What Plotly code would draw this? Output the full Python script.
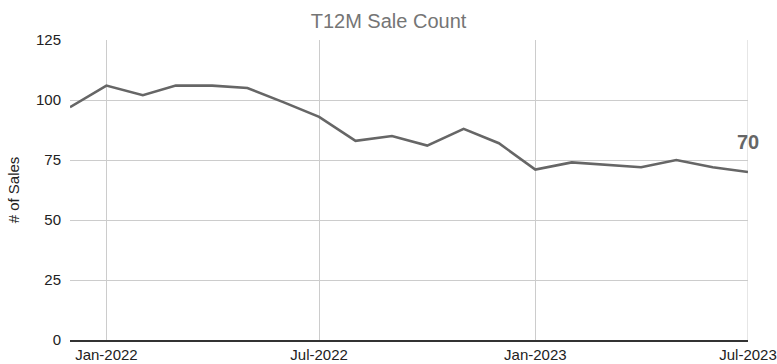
import plotly.graph_objects as go

# Trailing-12-month sale counts, monthly
months = [
    "2021-12-01", "2022-01-01", "2022-02-01", "2022-03-01", "2022-04-01",
    "2022-05-01", "2022-06-01", "2022-07-01", "2022-08-01", "2022-09-01",
    "2022-10-01", "2022-11-01", "2022-12-01", "2023-01-01", "2023-02-01",
    "2023-03-01", "2023-04-01", "2023-05-01", "2023-06-01", "2023-07-01",
]
sales = [97, 106, 102, 106, 106, 105, 99, 93, 83, 85,
         81, 88, 82, 71, 74, 73, 72, 75, 72, 70]

x_ticks = ["2022-01-01", "2022-07-01", "2023-01-01", "2023-07-01"]
x_tick_labels = ["Jan-2022", "Jul-2022", "Jan-2023", "Jul-2023"]
y_ticks = [0, 25, 50, 75, 100, 125]

FONT = "Liberation Sans, Arial, sans-serif"

fig = go.Figure()
fig.add_trace(go.Scatter(
    x=months, y=sales, mode="lines",
    line=dict(color="#666666", width=2.6),
    hoverinfo="x+y",
))

# Value label on the latest point
fig.add_annotation(
    x=months[-1], y=sales[-1], text=f"<b>{sales[-1]}</b>",
    showarrow=False, yshift=30,
    font=dict(family=FONT, size=20, color="#666666"),
)

fig.update_layout(
    width=777, height=364,
    margin=dict(l=70, r=29, t=40, b=24),
    paper_bgcolor="white", plot_bgcolor="white",
    showlegend=False,
    title=dict(
        text="T12M Sale Count", x=0.5, xanchor="center",
        y=0.942, yanchor="middle", yref="container",
        font=dict(family=FONT, size=20, color="#757575"),
    ),
    font=dict(family=FONT, size=15, color="#222222"),
)

fig.update_xaxes(
    range=[months[0], months[-1]],
    tickvals=x_ticks, ticktext=x_tick_labels,
    showgrid=True, gridcolor="#cccccc", gridwidth=1,
    showline=True, linecolor="#333333", linewidth=1.5,
    zeroline=False, ticks="", automargin=False,
    tickfont=dict(family=FONT, size=15, color="#222222"),
)
fig.update_yaxes(
    range=[0, 125], tickvals=y_ticks,
    showgrid=True, gridcolor="#cccccc", gridwidth=1,
    zeroline=False, showline=False, ticks="", automargin=False,
    ticklabelstandoff=8,
    tickfont=dict(family=FONT, size=15, color="#222222"),
    title=dict(text="# of Sales", standoff=12,
               font=dict(family=FONT, size=15, color="#222222")),
)

# Right-hand boundary gridline at Jul-2023
fig.add_shape(type="line", xref="x", yref="paper",
              x0=months[-1], x1=months[-1], y0=0, y1=1,
              line=dict(color="#cccccc", width=1), layer="below")

fig.write_html("out.html")
